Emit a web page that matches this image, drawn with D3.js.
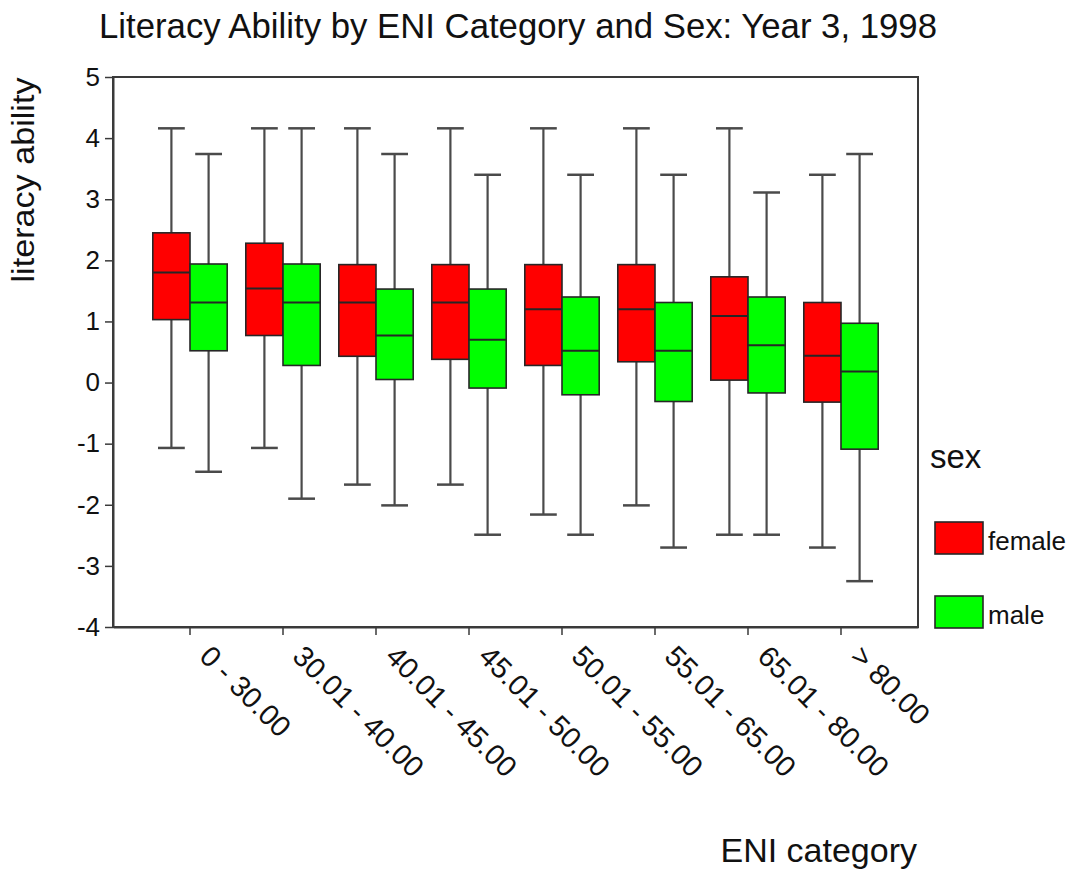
<!DOCTYPE html>
<html>
<head>
<meta charset="utf-8">
<script src="https://cdn.jsdelivr.net/npm/d3@7"></script>
<style>
  html, body { margin: 0; padding: 0; background: #fff; }
  text { font-family: "Liberation Sans", Arial, Helvetica, sans-serif; fill: #111; }
</style>
</head>
<body>
<svg id="chart" width="1075" height="871"></svg>
<script>
const categories = ["0 - 30.00", "30.01 - 40.00", "40.01 - 45.00", "45.01 - 50.00",
                    "50.01 - 55.00", "55.01 - 65.00", "65.01 - 80.00", "> 80.00"];
const sexes = ["female", "male"];
const yTicks = [-4, -3, -2, -1, 0, 1, 2, 3, 4, 5];

const femaleMin    = [-1.07, -1.07, -1.67, -1.67, -2.16, -2.01, -2.49, -2.70];
const femaleQ1     = [ 1.03,  0.77,  0.43,  0.38,  0.28,  0.34,  0.04, -0.32];
const femaleMedian = [ 1.80,  1.54,  1.31,  1.31,  1.20,  1.20,  1.09,  0.44];
const femaleQ3     = [ 2.45,  2.28,  1.93,  1.93,  1.93,  1.93,  1.73,  1.31];
const femaleMax    = [ 4.16,  4.16,  4.16,  4.16,  4.16,  4.16,  4.16,  3.40];

const maleMin    = [-1.46, -1.90, -2.01, -2.49, -2.49, -2.70, -2.49, -3.25];
const maleQ1     = [ 0.52,  0.28,  0.05, -0.09, -0.20, -0.31, -0.17, -1.09];
const maleMedian = [ 1.31,  1.31,  0.77,  0.70,  0.52,  0.52,  0.61,  0.18];
const maleQ3     = [ 1.94,  1.94,  1.53,  1.53,  1.40,  1.31,  1.40,  0.97];
const maleMax    = [ 3.74,  4.16,  3.74,  3.40,  3.40,  3.40,  3.11,  3.74];

const colors = { female: "#ff0000", male: "#00ff00" };

const boxes = [];
categories.forEach((c, i) => {
  boxes.push({ cat: c, sex: "female", min: femaleMin[i], q1: femaleQ1[i], med: femaleMedian[i], q3: femaleQ3[i], max: femaleMax[i] });
  boxes.push({ cat: c, sex: "male",   min: maleMin[i],   q1: maleQ1[i],   med: maleMedian[i],   q3: maleQ3[i],   max: maleMax[i] });
});

const svg = d3.select("#chart");
const pLeft = 113, pTop = 77, pRight = 918, pBottom = 627;

const x = d3.scaleBand().domain(categories).range([pLeft, pRight])
  .paddingInner(0.2).paddingOuter(0.428);
const xs = d3.scaleBand().domain(sexes).range([0, x.bandwidth()]).padding(0);
const y = d3.scaleLinear().domain([-4, 5]).range([pBottom, pTop]);

// frame
svg.append("rect")
  .attr("x", pLeft).attr("y", pTop)
  .attr("width", pRight - pLeft).attr("height", pBottom - pTop)
  .attr("fill", "none").attr("stroke", "#3a3a3a").attr("stroke-width", 2);

// y axis
const yAxis = svg.append("g")
  .attr("transform", `translate(${pLeft},0)`)
  .call(d3.axisLeft(y).tickValues(yTicks).tickSize(8).tickPadding(5).tickSizeOuter(0).tickFormat(d => String(d)));
yAxis.select(".domain").attr("stroke", "#3a3a3a").attr("stroke-width", 2);
yAxis.selectAll(".tick line").attr("stroke", "#3a3a3a").attr("stroke-width", 1.5);
yAxis.selectAll(".tick text").attr("font-size", 26).attr("fill", "#111")
  .style("font-family", "'Liberation Sans', Arial, sans-serif");

// x axis
const xAxis = svg.append("g")
  .attr("transform", `translate(0,${pBottom})`)
  .call(d3.axisBottom(x).tickSize(8).tickSizeOuter(0));
xAxis.select(".domain").attr("stroke", "#3a3a3a").attr("stroke-width", 2);
xAxis.selectAll(".tick line").attr("stroke", "#3a3a3a").attr("stroke-width", 1.5);
xAxis.selectAll(".tick text")
  .attr("x", 0).attr("y", 0).attr("dy", 0)
  .attr("transform", "translate(8,31) rotate(45)")
  .attr("text-anchor", "start")
  .attr("font-size", 29).attr("fill", "#111")
  .style("font-family", "'Liberation Sans', Arial, sans-serif");

// boxes
const g = svg.append("g");
const bw = xs.bandwidth();
const capW = bw * 0.72;
const bx = g.selectAll("g.box").data(boxes).join("g")
  .attr("class", "box")
  .attr("transform", d => `translate(${x(d.cat) + xs(d.sex)},0)`);

bx.append("line")
  .attr("x1", bw / 2).attr("x2", bw / 2)
  .attr("y1", d => y(d.max)).attr("y2", d => y(d.min))
  .attr("stroke", "#4a4a4a").attr("stroke-width", 2.2);
bx.append("line")
  .attr("x1", bw / 2 - capW / 2).attr("x2", bw / 2 + capW / 2)
  .attr("y1", d => y(d.max)).attr("y2", d => y(d.max))
  .attr("stroke", "#4a4a4a").attr("stroke-width", 2.5);
bx.append("line")
  .attr("x1", bw / 2 - capW / 2).attr("x2", bw / 2 + capW / 2)
  .attr("y1", d => y(d.min)).attr("y2", d => y(d.min))
  .attr("stroke", "#4a4a4a").attr("stroke-width", 2.5);
bx.append("rect")
  .attr("x", 0).attr("width", bw)
  .attr("y", d => y(d.q3)).attr("height", d => y(d.q1) - y(d.q3))
  .attr("fill", d => colors[d.sex]).attr("stroke", "#262626").attr("stroke-width", 1.6);
bx.append("line")
  .attr("x1", 0).attr("x2", bw)
  .attr("y1", d => y(d.med)).attr("y2", d => y(d.med))
  .attr("stroke", "#262626").attr("stroke-width", 2);

// title
svg.append("text")
  .attr("x", 518).attr("y", 38)
  .attr("text-anchor", "middle")
  .attr("font-size", 35)
  .attr("textLength", 838).attr("lengthAdjust", "spacingAndGlyphs")
  .text("Literacy Ability by ENI Category and Sex: Year 3, 1998");

// axis titles
svg.append("text")
  .attr("transform", "translate(34,180) rotate(-90)")
  .attr("text-anchor", "middle")
  .attr("font-size", 32)
  .attr("textLength", 205).attr("lengthAdjust", "spacingAndGlyphs")
  .text("literacy ability");

svg.append("text")
  .attr("x", 917).attr("y", 862)
  .attr("text-anchor", "end")
  .attr("font-size", 34)
  .text("ENI category");

// legend
svg.append("text")
  .attr("x", 930).attr("y", 468)
  .attr("font-size", 33)
  .text("sex");
const legendY = d3.scalePoint().domain(sexes).range([522, 596]);
const lg = svg.append("g").selectAll("g").data(sexes).join("g")
  .attr("transform", d => `translate(935,${legendY(d)})`);
lg.append("rect")
  .attr("width", 48).attr("height", 32)
  .attr("fill", d => colors[d]).attr("stroke", "#262626").attr("stroke-width", 1.6);
lg.append("text")
  .attr("x", 53).attr("y", 28)
  .attr("font-size", 26)
  .text(d => d);
</script>
</body>
</html>
